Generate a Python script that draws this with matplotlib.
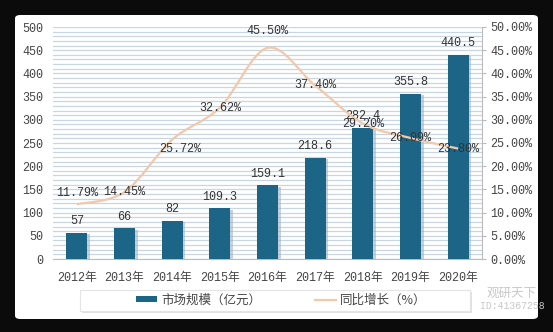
import matplotlib
matplotlib.use("Agg")
import matplotlib.pyplot as plt
import numpy as np
from matplotlib.path import Path
from matplotlib.patches import PathPatch, FancyBboxPatch
import matplotlib.patheffects as pe
from matplotlib.lines import Line2D
from matplotlib.patches import Patch

years = ["2012年", "2013年", "2014年", "2015年", "2016年", "2017年", "2018年", "2019年", "2020年"]
market_size = [57, 66, 82, 109.3, 159.1, 218.6, 282.4, 355.8, 440.5]
growth_pct = [11.79, 14.45, 25.72, 32.62, 45.50, 37.40, 29.20, 26.09, 23.80]
size_labels = ["57", "66", "82", "109.3", "159.1", "218.6", "282.4", "355.8", "440.5"]
growth_labels = ["11.79%", "14.45%", "25.72%", "32.62%", "45.50%", "37.40%", "29.20%", "26.09%", "23.80%"]

left_ticks = list(range(0, 501, 50))
right_ticks = [0, 5, 10, 15, 20, 25, 30, 35, 40, 45, 50]

plt.rcParams['font.family'] = ['Liberation Mono', 'Noto Sans CJK SC', 'DejaVu Sans']
FS = 8.5

W, H = 553, 332
fig = plt.figure(figsize=(W / 100, H / 100), dpi=100)
fig.patch.set_facecolor('#0b0b0b')

# white card
card = FancyBboxPatch((15 / W, 13 / H), (538 - 15) / W, (317 - 13) / H,
                      boxstyle="round,pad=0,rounding_size=0.01",
                      transform=fig.transFigure, facecolor='white', edgecolor='none', zorder=-10)
fig.patches.append(card)

# legend box
legbox = FancyBboxPatch((80 / W, (H - 311) / H), (470 - 80) / W, (311 - 290) / H,
                        boxstyle="square,pad=0", transform=fig.transFigure,
                        facecolor='white', edgecolor='#E4E4E4', lw=0.8, zorder=-5,
                        path_effects=[pe.SimplePatchShadow(offset=(1.5, -1.5), shadow_rgbFace='#CCCCCC', alpha=0.6), pe.Normal()])
fig.patches.append(legbox)

ax = fig.add_axes([53 / W, (H - 259) / H, (482 - 53) / W, (259 - 27) / H])
ax.patch.set_alpha(0)
x = np.arange(len(years))

# striped background
for v in range(0, 501, 10):
    ax.axhline(v, color='#CAD5E2', lw=0.9, zorder=0)

bars = ax.bar(x, market_size, width=0.44, color='#1C6587', zorder=3,
              path_effects=[pe.SimplePatchShadow(offset=(2, -1), shadow_rgbFace='#9FB3C4', alpha=0.6), pe.Normal()])
for xi, v, lab in zip(x, market_size, size_labels):
    ax.annotate(lab, (xi, v), xytext=(0, 4), textcoords='offset points',
                ha='center', va='bottom', fontsize=FS, color='#333333', zorder=6)

ax.set_xlim(-0.5, len(years) - 0.5)
ax.set_ylim(0, 500)
ax.set_yticks(left_ticks)
ax.set_yticklabels([str(t) for t in left_ticks], fontsize=FS, color='#444444')
ax.set_xticks(x)
ax.set_xticklabels(years, fontsize=FS, color='#444444')
ax.tick_params(axis='y', length=0, pad=7)
ax.tick_params(axis='x', length=0, pad=9)
for s in ['top', 'right', 'left']:
    ax.spines[s].set_visible(False)
ax.spines['bottom'].set_color('#BBBBBB')

ax2 = ax.twinx()
ax2.set_ylim(0, 50)
ax2.set_yticks(right_ticks)
ax2.set_yticklabels([f"{t:.2f}%" for t in right_ticks], fontsize=FS, color='#444444')
ax2.tick_params(axis='y', length=3, color='#BBBBBB', pad=3)
for s in ['top', 'left', 'bottom']:
    ax2.spines[s].set_visible(False)
ax2.spines['right'].set_color('#BBBBBB')

# smooth line via Bezier (Catmull-Rom control points)
pts = np.column_stack([x, growth_pct]).astype(float)
verts = [tuple(pts[0])]
codes = [Path.MOVETO]
n = len(pts)
for i in range(n - 1):
    p0 = pts[i - 1] if i > 0 else pts[i]
    p1 = pts[i]
    p2 = pts[i + 1]
    p3 = pts[i + 2] if i + 2 < n else pts[i + 1]
    c1 = p1 + (p2 - p0) / 6.0
    c2 = p2 - (p3 - p1) / 6.0
    verts += [tuple(c1), tuple(c2), tuple(p2)]
    codes += [Path.CURVE4] * 3
line_color = '#F1C9AA'
ax2.add_patch(PathPatch(Path(verts, codes), fill=False, edgecolor=line_color, lw=1.6, zorder=4))

offsets = [(0, 8), (0, 0), (6, -7), (0, 0), (0, 12), (0, 0), (0, 0), (0, 0), (0, 0)]
for xi, v, lab, off in zip(x, growth_pct, growth_labels, offsets):
    ax2.annotate(lab, (xi, v), xytext=off, textcoords='offset points',
                 ha='center', va='center', fontsize=FS, color='#333333', zorder=7)

handles = [Patch(facecolor='#1C6587', edgecolor='none'),
           Line2D([0], [0], color=line_color, lw=1.6)]
leg = fig.legend(handles, ["市场规模（亿元）", "同比增长（%）"], loc='center',
                 bbox_to_anchor=(281 / W, (H - 300) / H), ncol=2, frameon=False,
                 prop={'family': ['Noto Sans CJK SC'], 'size': 9}, columnspacing=4.3,
                 handlelength=1.7, handleheight=0.3, handletextpad=0.3)
for t in leg.get_texts():
    t.set_color('#444444')

# watermark
fig.text(512 / W, (H - 293) / H, "观研天下", fontsize=9, color='#C8C8C8',
         family=['Noto Sans CJK SC'], ha='center', va='center')
fig.text(512 / W, (H - 306) / H, "ID:41367258", fontsize=7, color='#C8C8C8',
         family=['Liberation Mono'], ha='center', va='center')

fig.savefig("out.png", dpi=100, facecolor=fig.get_facecolor())
